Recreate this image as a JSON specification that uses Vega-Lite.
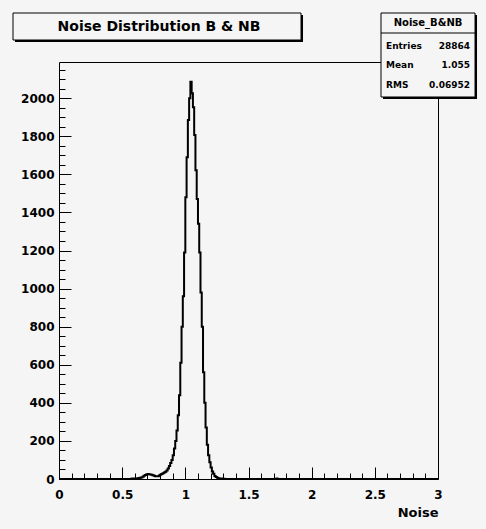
{
  "$schema": "https://vega.github.io/schema/vega-lite/v6.json",
  "width": 379,
  "height": 417,
  "autosize": {"type": "none"},
  "padding": {"left": 59, "top": 62, "right": 48, "bottom": 50},
  "background": "#f5f5f5",
  "config": {
    "view": {"stroke": null, "fill": "#f5f5f5"},
    "axis": {
      "domainColor": "black", "tickColor": "black", "labelColor": "black", "titleColor": "black",
      "labelFont": "DejaVu Sans", "labelFontWeight": "bold", "labelFontSize": 12,
      "titleFont": "DejaVu Sans", "titleFontWeight": "bold", "titleFontSize": 13,
      "grid": false, "domainWidth": 1, "tickWidth": 1
    },
    "text": {"font": "DejaVu Sans", "fontWeight": "bold", "color": "black"}
  },
  "datasets": {
    "hist": [
      {"noise": 0.0, "entries": 0},
      {"noise": 0.57, "entries": 1}, {"noise": 0.58, "entries": 2}, {"noise": 0.59, "entries": 2},
      {"noise": 0.60, "entries": 3}, {"noise": 0.61, "entries": 3}, {"noise": 0.62, "entries": 4},
      {"noise": 0.63, "entries": 5}, {"noise": 0.64, "entries": 6}, {"noise": 0.65, "entries": 8},
      {"noise": 0.66, "entries": 12}, {"noise": 0.67, "entries": 17}, {"noise": 0.68, "entries": 21},
      {"noise": 0.69, "entries": 24}, {"noise": 0.70, "entries": 26}, {"noise": 0.71, "entries": 25},
      {"noise": 0.72, "entries": 24}, {"noise": 0.73, "entries": 22}, {"noise": 0.74, "entries": 20},
      {"noise": 0.75, "entries": 17}, {"noise": 0.76, "entries": 15}, {"noise": 0.77, "entries": 14},
      {"noise": 0.78, "entries": 15}, {"noise": 0.79, "entries": 18}, {"noise": 0.80, "entries": 22},
      {"noise": 0.81, "entries": 26}, {"noise": 0.82, "entries": 30}, {"noise": 0.83, "entries": 34},
      {"noise": 0.84, "entries": 38}, {"noise": 0.85, "entries": 45}, {"noise": 0.86, "entries": 55},
      {"noise": 0.87, "entries": 68}, {"noise": 0.88, "entries": 84}, {"noise": 0.89, "entries": 100},
      {"noise": 0.90, "entries": 125}, {"noise": 0.91, "entries": 160}, {"noise": 0.92, "entries": 200},
      {"noise": 0.93, "entries": 255}, {"noise": 0.94, "entries": 335}, {"noise": 0.95, "entries": 440},
      {"noise": 0.96, "entries": 610}, {"noise": 0.97, "entries": 800}, {"noise": 0.98, "entries": 960},
      {"noise": 0.99, "entries": 1190}, {"noise": 1.00, "entries": 1480}, {"noise": 1.01, "entries": 1690},
      {"noise": 1.02, "entries": 1885}, {"noise": 1.03, "entries": 2000}, {"noise": 1.04, "entries": 2086},
      {"noise": 1.05, "entries": 2026}, {"noise": 1.06, "entries": 1953}, {"noise": 1.07, "entries": 1806},
      {"noise": 1.08, "entries": 1622}, {"noise": 1.09, "entries": 1470}, {"noise": 1.10, "entries": 1340},
      {"noise": 1.11, "entries": 1190}, {"noise": 1.12, "entries": 980}, {"noise": 1.13, "entries": 800},
      {"noise": 1.14, "entries": 560}, {"noise": 1.15, "entries": 400}, {"noise": 1.16, "entries": 270},
      {"noise": 1.17, "entries": 180}, {"noise": 1.18, "entries": 125}, {"noise": 1.19, "entries": 88},
      {"noise": 1.20, "entries": 60}, {"noise": 1.21, "entries": 40}, {"noise": 1.22, "entries": 27},
      {"noise": 1.23, "entries": 16}, {"noise": 1.24, "entries": 10}, {"noise": 1.25, "entries": 6},
      {"noise": 1.26, "entries": 4}, {"noise": 1.27, "entries": 3}, {"noise": 1.28, "entries": 2},
      {"noise": 1.29, "entries": 1}, {"noise": 1.30, "entries": 1}, {"noise": 1.31, "entries": 0},
      {"noise": 1.72, "entries": 3}, {"noise": 1.73, "entries": 0},
      {"noise": 3.0, "entries": 0}
    ]
  },
  "layer": [
    {
      "data": {"name": "hist"},
      "mark": {"type": "line", "opacity": 0},
      "encoding": {
        "x": {
          "field": "noise", "type": "quantitative",
          "scale": {"domain": [0, 3], "nice": false, "zero": false},
          "axis": {"orient": "top", "ticks": false, "labels": false, "title": null, "domain": true}
        },
        "y": {
          "field": "entries", "type": "quantitative",
          "scale": {"domain": [0, 2190], "nice": false, "zero": true},
          "axis": {"orient": "right", "ticks": false, "labels": false, "title": null, "domain": true}
        }
      }
    },
    {
      "data": {"name": "hist"},
      "mark": {"type": "line", "interpolate": "step-after", "color": "black", "strokeWidth": 2},
      "encoding": {
        "x": {
          "field": "noise", "type": "quantitative",
          "scale": {"domain": [0, 3], "nice": false, "zero": false},
          "axis": {
            "orient": "bottom", "values": [0, 0.5, 1, 1.5, 2, 2.5, 3], "tickSize": -12,
            "labelPadding": 22, "format": "~g", "labelFlush": false, "labelOverlap": false,
            "title": "Noise", "titleAnchor": "end", "titleAlign": "right", "titlePadding": 6
          }
        },
        "y": {
          "field": "entries", "type": "quantitative",
          "scale": {"domain": [0, 2190], "nice": false, "zero": true},
          "axis": {
            "orient": "left", "values": [0, 200, 400, 600, 800, 1000, 1200, 1400, 1600, 1800, 2000],
            "tickSize": -12, "labelPadding": 17, "format": "d", "labelOverlap": false, "title": null
          }
        }
      }
    },
    {
      "data": {"name": "hist"},
      "mark": {"type": "line", "opacity": 0},
      "encoding": {
        "x": {
          "field": "noise", "type": "quantitative",
          "scale": {"domain": [0, 3], "nice": false, "zero": false},
          "axis": {
            "orient": "bottom",
            "values": [0.1, 0.2, 0.3, 0.4, 0.6, 0.7, 0.8, 0.9, 1.1, 1.2, 1.3, 1.4, 1.6, 1.7, 1.8, 1.9, 2.1, 2.2, 2.3, 2.4, 2.6, 2.7, 2.8, 2.9],
            "tickSize": -6, "labels": false, "domain": false, "title": null
          }
        },
        "y": {
          "field": "entries", "type": "quantitative",
          "scale": {"domain": [0, 2190], "nice": false, "zero": true},
          "axis": {
            "orient": "left",
            "values": [50, 100, 150, 250, 300, 350, 450, 500, 550, 650, 700, 750, 850, 900, 950, 1050, 1100, 1150, 1250, 1300, 1350, 1450, 1500, 1550, 1650, 1700, 1750, 1850, 1900, 1950, 2050, 2100, 2150],
            "tickSize": -6, "labels": false, "domain": false, "title": null
          }
        }
      }
    },
    {
      "data": {"values": [{}]},
      "mark": {"type": "rect", "fill": "black"},
      "encoding": {
        "x": {"datum": -0.3483, "type": "quantitative", "scale": {"domain": [0, 3], "nice": false, "zero": false}, "axis": null},
        "x2": {"datum": 1.9315},
        "y": {"datum": 2436.8, "type": "quantitative", "scale": {"domain": [0, 2190], "nice": false, "zero": true}, "axis": null},
        "y2": {"datum": 2295.0}
      }
    },
    {
      "data": {"values": [{}]},
      "mark": {"type": "rect", "fill": "#f5f5f5", "stroke": "black", "strokeWidth": 1},
      "encoding": {
        "x": {"datum": -0.3641, "type": "quantitative", "scale": {"domain": [0, 3], "nice": false, "zero": false}, "axis": null},
        "x2": {"datum": 1.9156},
        "y": {"datum": 2447.3, "type": "quantitative", "scale": {"domain": [0, 2190], "nice": false, "zero": true}, "axis": null},
        "y2": {"datum": 2305.5}
      }
    },
    {
      "data": {"values": [{}]},
      "mark": {"type": "text", "fontSize": 14, "align": "center", "baseline": "middle"},
      "encoding": {
        "x": {"datum": 0.7917, "type": "quantitative", "scale": {"domain": [0, 3], "nice": false, "zero": false}, "axis": null},
        "y": {"datum": 2373.8, "type": "quantitative", "scale": {"domain": [0, 2190], "nice": false, "zero": true}, "axis": null},
        "text": {"value": "Noise Distribution B & NB"}
      }
    },
    {
      "data": {"values": [{}]},
      "mark": {"type": "rect", "fill": "black"},
      "encoding": {
        "x": {"datum": 2.5647, "type": "quantitative", "scale": {"domain": [0, 3], "nice": false, "zero": false}, "axis": null},
        "x2": {"datum": 3.3088},
        "y": {"datum": 2436.8, "type": "quantitative", "scale": {"domain": [0, 2190], "nice": false, "zero": true}, "axis": null},
        "y2": {"datum": 1995.7}
      }
    },
    {
      "data": {"values": [{}]},
      "mark": {"type": "rect", "fill": "#f5f5f5", "stroke": "black", "strokeWidth": 1},
      "encoding": {
        "x": {"datum": 2.5489, "type": "quantitative", "scale": {"domain": [0, 3], "nice": false, "zero": false}, "axis": null},
        "x2": {"datum": 3.2930},
        "y": {"datum": 2447.3, "type": "quantitative", "scale": {"domain": [0, 2190], "nice": false, "zero": true}, "axis": null},
        "y2": {"datum": 2006.2}
      }
    },
    {
      "data": {"values": [{}]},
      "mark": {"type": "rule", "color": "black", "strokeWidth": 1},
      "encoding": {
        "x": {"datum": 2.5489, "type": "quantitative", "scale": {"domain": [0, 3], "nice": false, "zero": false}, "axis": null},
        "x2": {"datum": 3.2930},
        "y": {"datum": 2342.3, "type": "quantitative", "scale": {"domain": [0, 2190], "nice": false, "zero": true}, "axis": null}
      }
    },
    {
      "data": {"values": [{}]},
      "mark": {"type": "text", "fontSize": 10, "align": "center", "baseline": "middle"},
      "encoding": {
        "x": {"datum": 2.921, "type": "quantitative", "scale": {"domain": [0, 3], "nice": false, "zero": false}, "axis": null},
        "y": {"datum": 2394.8, "type": "quantitative", "scale": {"domain": [0, 2190], "nice": false, "zero": true}, "axis": null},
        "text": {"value": "Noise_B&NB"}
      }
    },
    {
      "data": {"values": [{}]},
      "mark": {"type": "text", "fontSize": 9, "align": "left", "baseline": "middle"},
      "encoding": {
        "x": {"datum": 2.5885, "type": "quantitative", "scale": {"domain": [0, 3], "nice": false, "zero": false}, "axis": null},
        "y": {"datum": 2274.0, "type": "quantitative", "scale": {"domain": [0, 2190], "nice": false, "zero": true}, "axis": null},
        "text": {"value": "Entries"}
      }
    },
    {
      "data": {"values": [{}]},
      "mark": {"type": "text", "fontSize": 9, "align": "right", "baseline": "middle"},
      "encoding": {
        "x": {"datum": 3.2534, "type": "quantitative", "scale": {"domain": [0, 3], "nice": false, "zero": false}, "axis": null},
        "y": {"datum": 2274.0, "type": "quantitative", "scale": {"domain": [0, 2190], "nice": false, "zero": true}, "axis": null},
        "text": {"value": "28864"}
      }
    },
    {
      "data": {"values": [{}]},
      "mark": {"type": "text", "fontSize": 9, "align": "left", "baseline": "middle"},
      "encoding": {
        "x": {"datum": 2.5885, "type": "quantitative", "scale": {"domain": [0, 3], "nice": false, "zero": false}, "axis": null},
        "y": {"datum": 2174.2, "type": "quantitative", "scale": {"domain": [0, 2190], "nice": false, "zero": true}, "axis": null},
        "text": {"value": "Mean"}
      }
    },
    {
      "data": {"values": [{}]},
      "mark": {"type": "text", "fontSize": 9, "align": "right", "baseline": "middle"},
      "encoding": {
        "x": {"datum": 3.2534, "type": "quantitative", "scale": {"domain": [0, 3], "nice": false, "zero": false}, "axis": null},
        "y": {"datum": 2174.2, "type": "quantitative", "scale": {"domain": [0, 2190], "nice": false, "zero": true}, "axis": null},
        "text": {"value": "1.055"}
      }
    },
    {
      "data": {"values": [{}]},
      "mark": {"type": "text", "fontSize": 9, "align": "left", "baseline": "middle"},
      "encoding": {
        "x": {"datum": 2.5885, "type": "quantitative", "scale": {"domain": [0, 3], "nice": false, "zero": false}, "axis": null},
        "y": {"datum": 2069.2, "type": "quantitative", "scale": {"domain": [0, 2190], "nice": false, "zero": true}, "axis": null},
        "text": {"value": "RMS"}
      }
    },
    {
      "data": {"values": [{}]},
      "mark": {"type": "text", "fontSize": 9, "align": "right", "baseline": "middle"},
      "encoding": {
        "x": {"datum": 3.2534, "type": "quantitative", "scale": {"domain": [0, 3], "nice": false, "zero": false}, "axis": null},
        "y": {"datum": 2069.2, "type": "quantitative", "scale": {"domain": [0, 2190], "nice": false, "zero": true}, "axis": null},
        "text": {"value": "0.06952"}
      }
    }
  ],
  "resolve": {"axis": {"x": "independent", "y": "independent"}}
}
